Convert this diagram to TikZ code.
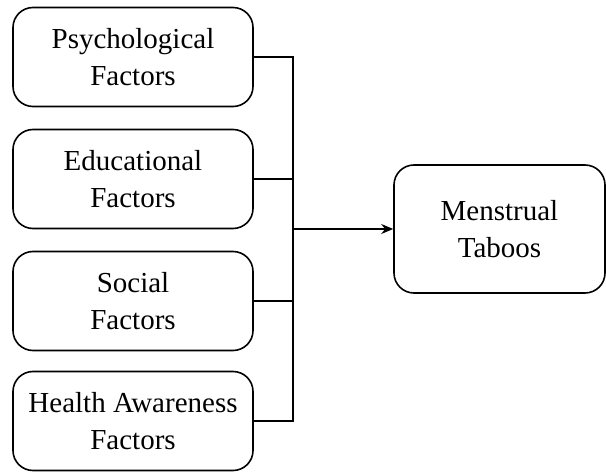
\documentclass[tikz,border=0pt]{standalone}
\usepackage{fontspec}
\setmainfont{Liberation Serif}
\usetikzlibrary{arrows.meta}

\tikzset{
  factor/.style={draw, line width=1.6pt, rounded corners=20pt, minimum width=240pt,
    minimum height=99pt, align=center, inner sep=0pt,
    font=\fontsize{29}{37}\selectfont},
  link/.style={line width=1.4pt}
}

\begin{document}
\begin{tikzpicture}[x=1pt, y=1pt]
	\useasboundingbox (0,0) rectangle (606,-473);

	\node[factor] (psych) at (133,-57) {Psychological\\Factors};
	\node[factor] (educ) at (133,-179) {Educational\\Factors};
	\node[factor] (social) at (133,-301) {Social\\Factors};
	\node[factor] (health) at (133,-421) {Health Awareness\\Factors};

	\node[factor, minimum width=211pt, minimum height=128pt] (taboos) at (499.5,-229) {Menstrual\\Taboos};

	\coordinate (join) at (293,-229);

	\draw[link] (psych.east) -| (join);
	\draw[link] (health.east) -| (join);
	\draw[link] (educ.east) -- (educ.east -| join);
	\draw[link] (social.east) -- (social.east -| join);
	\draw[link, -{Stealth[length=12pt, width=10pt]}] (join) -- (taboos.west);
\end{tikzpicture}
\end{document}
